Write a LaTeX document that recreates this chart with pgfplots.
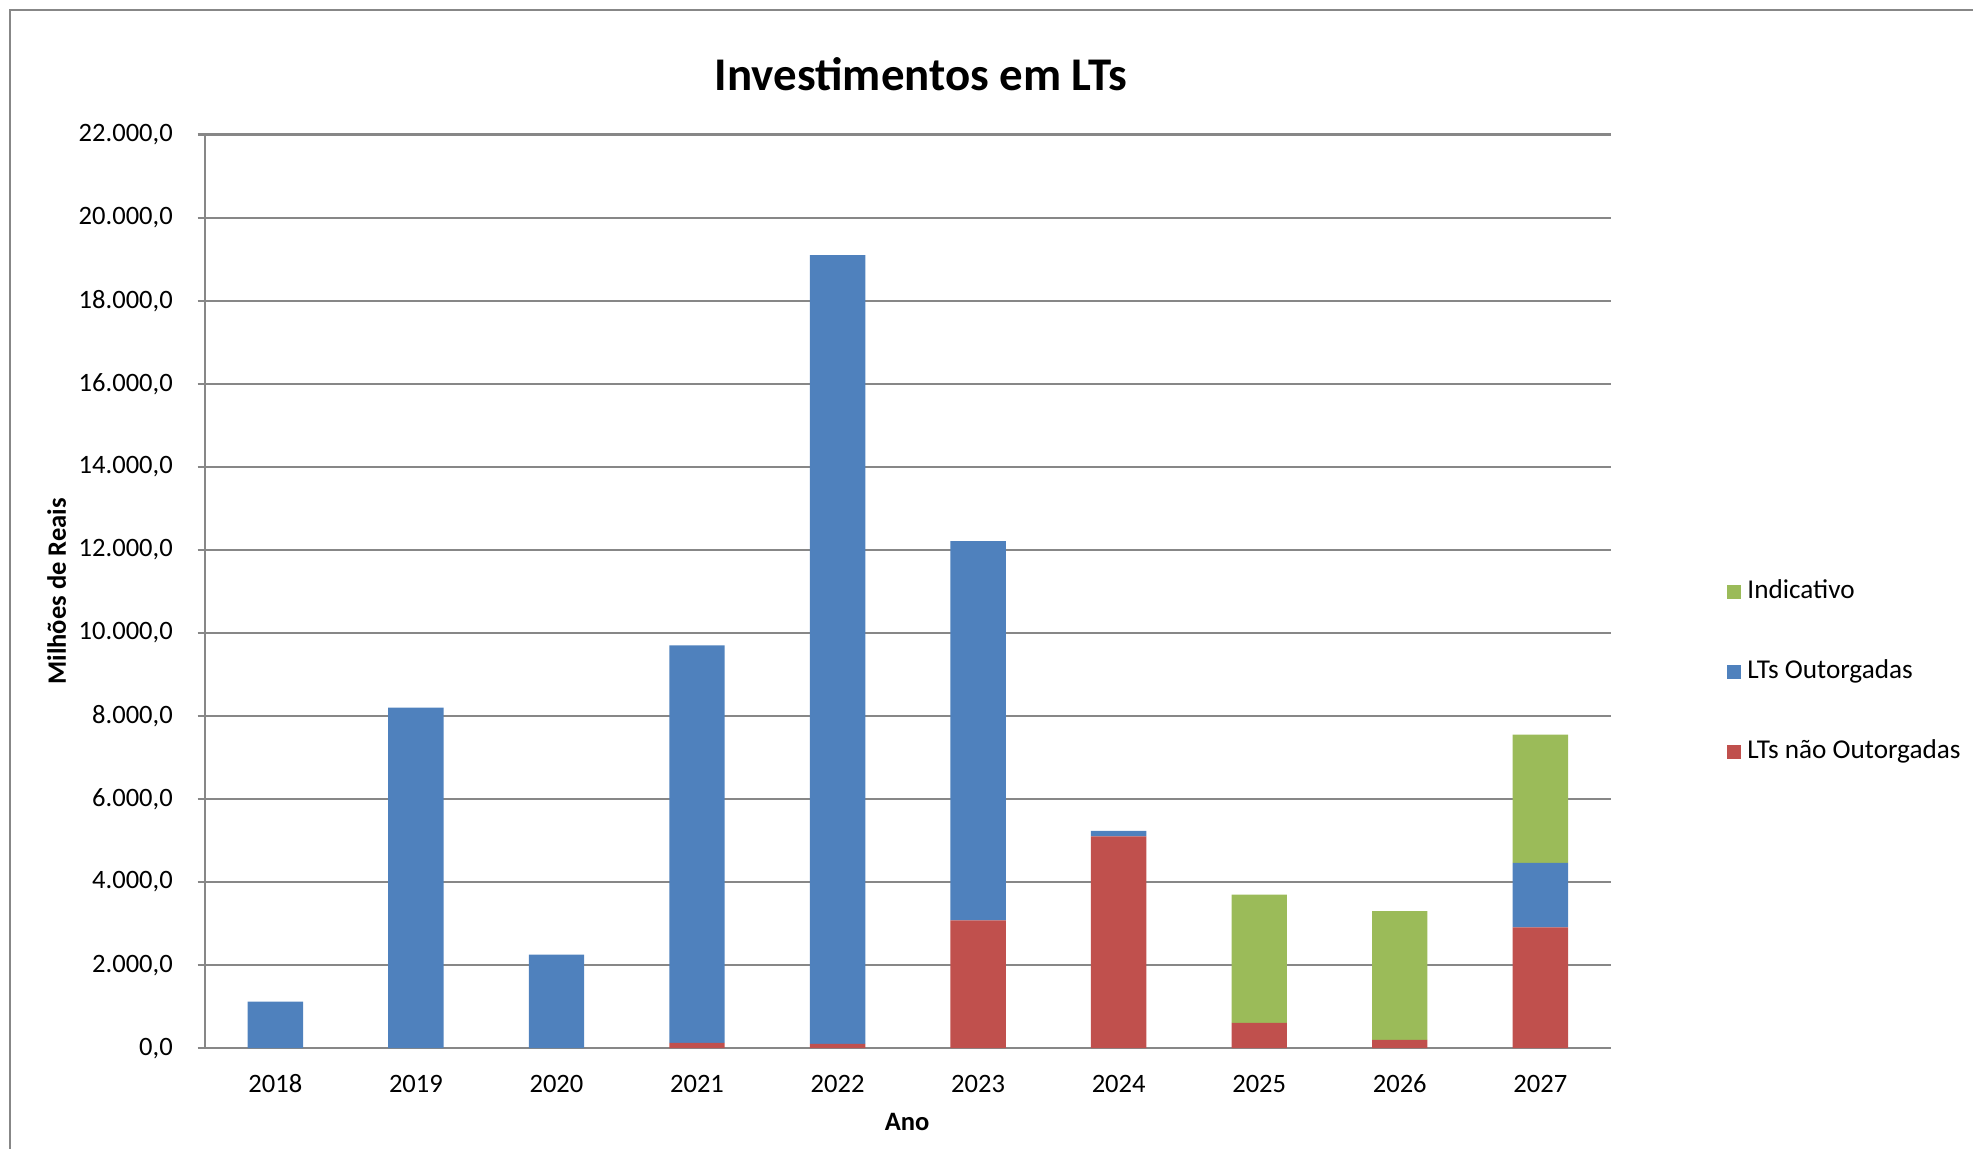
\documentclass[border=0pt]{standalone}
\usepackage{pgfplots}
\pgfplotsset{compat=1.18}
\usepackage{fontspec}
\setmainfont{Carlito}
\definecolor{cblue}{HTML}{4F81BD}
\definecolor{cred}{HTML}{C0504D}
\definecolor{cgreen}{HTML}{9BBB59}
\definecolor{cgrid}{HTML}{878787}
\begin{document}
\begin{tikzpicture}
\path[use as bounding box] (0,0) rectangle (15.68cm,9.13cm);
\draw[cgrid, line width=0.18mm] (0.08cm,0cm) -- (0.08cm,9.05cm) -- (15.68cm,9.05cm);
\begin{axis}[
  at={(1.63cm,0.80cm)}, anchor=south west,
  scale only axis, width=11.17cm, height=7.26cm,
  ybar stacked, bar width=4.4mm,
  xmin=-0.5, xmax=9.5, ymin=0, ymax=22000,
  xtick={0,...,9},
  xticklabels={2018,2019,2020,2021,2022,2023,2024,2025,2026,2027},
  major x tick style={draw=none},
  extra x ticks={-0.5,0.5,1.5,2.5,3.5,4.5,5.5,6.5,7.5,8.5,9.5},
  extra x tick labels={},
  extra x tick style={major tick length=0.65mm, tick style={cgrid, line width=0.18mm}, grid=none},
  ytick distance=2000,
  ymajorgrids, grid style={cgrid, line width=0.18mm},
  axis x line*=bottom, axis y line*=left,
  axis line style={cgrid, line width=0.2mm},
  tick align=outside, major tick length=0.6mm,
  tick style={cgrid, line width=0.18mm},
  /pgf/number format/.cd, assume math mode=true, fixed, fixed zerofill, precision=1, 1000 sep={.}, dec sep={,},
  /pgfplots/.cd,
  scaled y ticks=false,
  tick label style={font=\fontsize{6}{7}\selectfont},
  yticklabel style={inner sep=0pt, xshift=-1.9mm},
  xticklabel style={inner sep=0pt, yshift=-1.45mm},
  title={Investimentos em LTs},
  title style={font=\fontsize{10.6}{12}\selectfont\bfseries, at={(axis description cs:0.5094,1.037)}, anchor=center, inner sep=0pt},
  xlabel={Ano},
  xlabel style={font=\fontsize{6}{7}\selectfont\bfseries, at={(axis description cs:0.4995,-0.0813)}, anchor=center, inner sep=0pt},
  ylabel={Milhões de Reais},
  ylabel style={font=\fontsize{6}{7}\selectfont\bfseries, at={(axis description cs:-0.1056,0.5)}, anchor=center, rotate=0, inner sep=0pt},
  reverse legend,
  legend style={at={(axis description cs:1.0824,0.4118)}, anchor=west, draw=none, fill=none, inner sep=0pt,
    row sep=3.95mm, font=\fontsize{6.15}{7}\selectfont,
    nodes={inner sep=0.3mm, text height=1.4mm, text depth=0.4mm}},
  legend cell align=left,
  legend image code/.code={\fill[#1] (0mm,-0.55mm) rectangle (1.1mm,0.55mm);},
]
\addplot[fill=cred, draw=none] coordinates {(0,0) (1,0) (2,0) (3,130) (4,100) (5,3080) (6,5100) (7,610) (8,200) (9,2910)};
\addplot[fill=cblue, draw=none] coordinates {(0,1120) (1,8200) (2,2250) (3,9570) (4,19000) (5,9130) (6,130) (7,0) (8,0) (9,1550)};
\addplot[fill=cgreen, draw=none] coordinates {(0,0) (1,0) (2,0) (3,0) (4,0) (5,0) (6,0) (7,3090) (8,3100) (9,3090)};
\legend{\hspace{0.2mm}LTs não Outorgadas, \hspace{0.2mm}LTs Outorgadas, \hspace{0.2mm}Indicativo}
\end{axis}
\end{tikzpicture}
\end{document}
